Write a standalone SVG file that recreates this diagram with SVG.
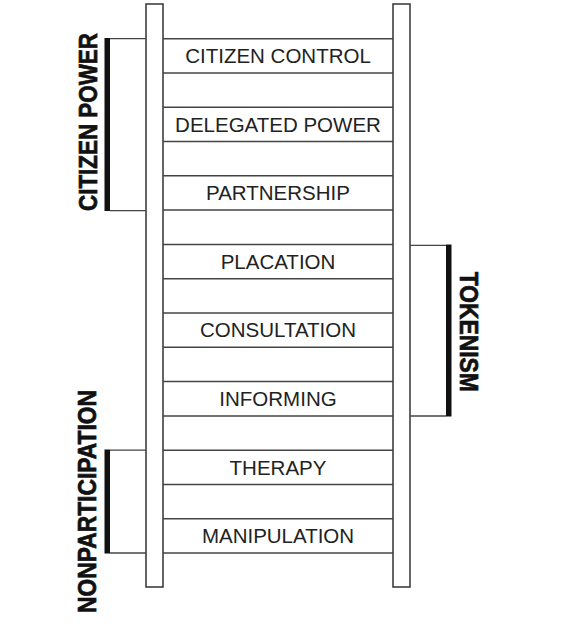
<svg xmlns="http://www.w3.org/2000/svg" width="571" height="629" viewBox="0 0 571 629">
<style>
.rail{fill:#fff;stroke:#333;stroke-width:1.5}
.rung{stroke:#444;stroke-width:1.5;fill:none}
.lbl{font-family:"Liberation Sans",Arial,sans-serif;font-size:20.5px;fill:#222;text-anchor:middle}
.grp{font-family:"Liberation Sans",Arial,sans-serif;font-weight:bold;font-size:25px;fill:#111;stroke:#111;stroke-width:0.7;text-anchor:middle}
.bar{fill:#111}
.tick{stroke:#444;stroke-width:1.3;fill:none}
</style>
<rect width="571" height="629" fill="#fff"/>
<g id="rails">
<rect class="rail" x="146" y="4" width="17" height="583"/>
<rect class="rail" x="393" y="4" width="17" height="583"/>
</g>
<g id="citizen-control"><path class="rung" d="M163 38.7H393M163 72.9H393"/><text class="lbl" x="278" y="63.3">CITIZEN CONTROL</text></g>
<g id="delegated-power"><path class="rung" d="M163 107.2H393M163 141.5H393"/><text class="lbl" x="278" y="131.8">DELEGATED POWER</text></g>
<g id="partnership"><path class="rung" d="M163 175.8H393M163 210.1H393"/><text class="lbl" x="278" y="200.4">PARTNERSHIP</text></g>
<g id="placation"><path class="rung" d="M163 244.4H393M163 278.7H393"/><text class="lbl" x="278" y="269">PLACATION</text></g>
<g id="consultation"><path class="rung" d="M163 313H393M163 347.3H393"/><text class="lbl" x="278" y="337.4">CONSULTATION</text></g>
<g id="informing"><path class="rung" d="M163 381.6H393M163 415.9H393"/><text class="lbl" x="278" y="406">INFORMING</text></g>
<g id="therapy"><path class="rung" d="M163 450.2H393M163 484.5H393"/><text class="lbl" x="278" y="474.6">THERAPY</text></g>
<g id="manipulation"><path class="rung" d="M163 518.8H393M163 553H393"/><text class="lbl" x="278" y="543.2">MANIPULATION</text></g>
<g id="connectors">
<path class="tick" d="M110 38.7H146M110 210.7H146"/>
<path class="tick" d="M410 245.3H446M410 416H446"/>
<path class="tick" d="M110 450.2H146M110 553H146"/>
</g>
<g id="citizen-power">
<rect class="bar" x="104.5" y="38" width="5.5" height="173"/>
<text class="grp" transform="translate(97,122) rotate(-90)" textLength="178" lengthAdjust="spacingAndGlyphs">CITIZEN POWER</text>
</g>
<g id="tokenism">
<rect class="bar" x="446" y="244.5" width="5.5" height="172"/>
<text class="grp" transform="translate(460,331.7) rotate(90)" textLength="120" lengthAdjust="spacingAndGlyphs">TOKENISM</text>
</g>
<g id="nonparticipation">
<rect class="bar" x="104.5" y="449.5" width="5.5" height="104"/>
<text class="grp" transform="translate(96,501.5) rotate(-90)" textLength="223" lengthAdjust="spacingAndGlyphs">NONPARTICIPATION</text>
</g>
</svg>
